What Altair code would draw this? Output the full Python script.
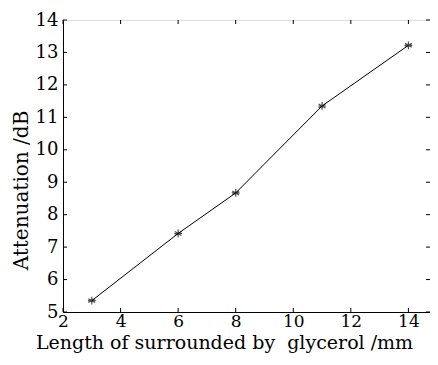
import altair as alt
import pandas as pd

length_mm = [3, 6, 8, 11, 14]
attenuation_db = [5.35, 7.42, 8.67, 11.35, 13.22]
x_ticks = [2, 4, 6, 8, 10, 12, 14]
y_ticks = [5, 6, 7, 8, 9, 10, 11, 12, 13, 14]

W, H = 367, 292
FONT = "DejaVu Serif"
XTITLE = "Length of surrounded by\u00a0 glycerol /mm"
YTITLE = "Attenuation /dB"

df = pd.DataFrame({"x": length_mm, "y": attenuation_db})
xt = pd.DataFrame({"v": x_ticks})
yt = pd.DataFrame({"v": y_ticks})

xscale = alt.Scale(domain=[2, 14.75], nice=False, zero=False)
yscale = alt.Scale(domain=[5, 14], nice=False, zero=False)

xaxis = alt.Axis(values=x_ticks, ticks=False, grid=False, labelFont=FONT, labelFontSize=17,
                 labelColor="black", labelPadding=1, domainColor="black", labelOverlap=False,
                 labelFlush=False, labelBound=False,
                 title=XTITLE, titleFont=FONT,
                 titleFontSize=19, titleFontWeight="normal", titleColor="black",
                 titleX=161, titleY=36, titleBaseline="alphabetic", titleAlign="center")
yaxis = alt.Axis(values=y_ticks, ticks=False, grid=False, labelFont=FONT, labelFontSize=18,
                 labelColor="black", labelPadding=5, domainColor="black", labelOverlap=False,
                 labelFlush=False, labelBound=False,
                 title=YTITLE, titleFont=FONT, titleFontSize=20,
                 titleFontWeight="normal", titleColor="black",
                 titleX=-42, titleY=170, titleBaseline="middle", titleAngle=-90, titleAlign="center")


def X(f):
    return alt.X(f, type="quantitative", scale=xscale, axis=xaxis, title=XTITLE)


def Y(f):
    return alt.Y(f, type="quantitative", scale=yscale, axis=yaxis, title=YTITLE)


line = alt.Chart(df).mark_line(color="black", strokeWidth=1).encode(x=X("x"), y=Y("y"))

star = "M0,-1L0,1M-0.87,-0.5L0.87,0.5M-0.87,0.5L0.87,-0.5M-1,0L1,0"
pts = alt.Chart(df).mark_point(shape=star, filled=False, stroke="black", strokeWidth=1.2, size=60).encode(
    x=X("x"), y=Y("y"))

tl = 4
xb = alt.Chart(xt).mark_rule(color="black", strokeWidth=1).encode(
    x=X("v"), y=alt.value(H), y2=alt.value(H - tl))
xtop = alt.Chart(xt).mark_rule(color="black", strokeWidth=1).encode(
    x=X("v"), y=alt.value(0), y2=alt.value(tl))
yl = alt.Chart(yt).mark_rule(color="black", strokeWidth=1).encode(
    y=Y("v"), x=alt.value(0), x2=alt.value(tl))
yr = alt.Chart(yt).mark_rule(color="black", strokeWidth=1).encode(
    y=Y("v"), x=alt.value(W), x2=alt.value(W - tl))

chart = alt.layer(line, pts, xb, xtop, yl, yr).properties(
    width=W, height=H,
    autosize=alt.AutoSizeParams(type="none"),
    padding={"left": 55, "top": 12, "right": 0, "bottom": 41},
).configure_view(stroke="black", strokeWidth=1).configure(background="white")

chart.save("out.html", embed_options={"renderer": "svg", "actions": False})
